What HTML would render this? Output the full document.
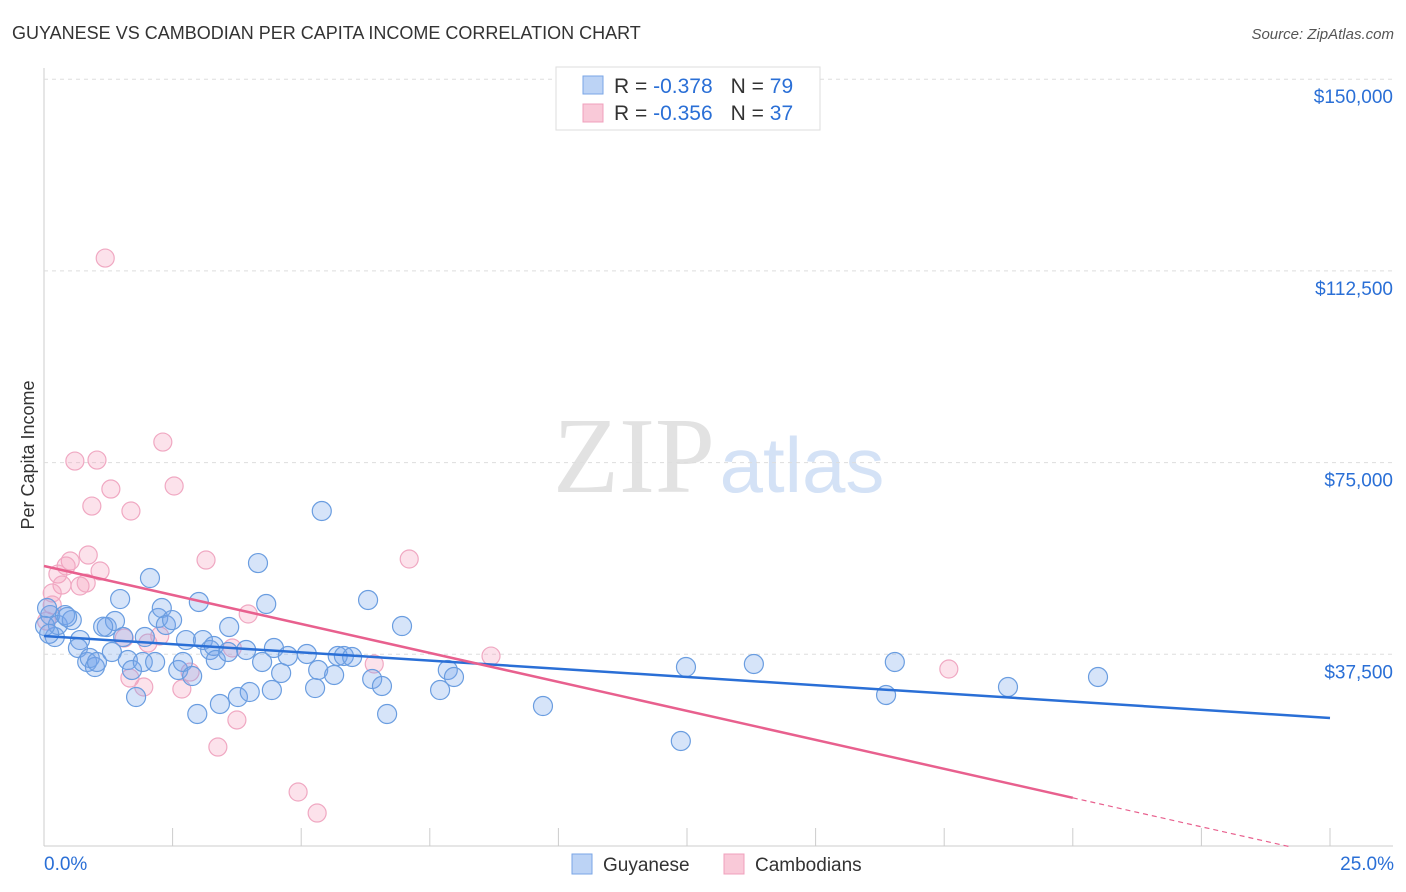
<!DOCTYPE html>
<html><head><meta charset="utf-8"><style>
body{margin:0;background:#fff;font-family:"Liberation Sans",sans-serif}
svg{display:block}
</style></head><body>
<svg id="chart" width="1406" height="892">
<text x="12" y="39" font-size="18" fill="#333">GUYANESE VS CAMBODIAN PER CAPITA INCOME CORRELATION CHART</text>
<text x="1394" y="39" font-size="15" fill="#555" font-style="italic" text-anchor="end">Source: ZipAtlas.com</text>
<text x="634" y="492" font-size="108" fill="#e2e2e2" font-family="Liberation Serif,serif" text-anchor="middle">ZIP</text>
<text x="802" y="492" font-size="78" fill="#d4e2f6" text-anchor="middle">atlas</text>
<text transform="translate(34,455) rotate(-90)" font-size="18" fill="#333" text-anchor="middle">Per Capita Income</text>
<g id="grid"></g><g id="pts"></g><g id="lines"></g>
<g>
<rect x="556" y="67" width="264" height="63" fill="#fff" stroke="#ddd"/>
<rect x="583" y="76" width="20" height="18" fill="#bcd3f5" stroke="#7aa6e6"/>
<rect x="583" y="104" width="20" height="18" fill="#f9c9d8" stroke="#f0a0bc"/>
<text x="614" y="93" font-size="21" fill="#333">R = <tspan fill="#2a6fd6">-0.378</tspan><tspan dx="18">N = </tspan><tspan fill="#2a6fd6">79</tspan></text>
<text x="614" y="120" font-size="21" fill="#333">R = <tspan fill="#2a6fd6">-0.356</tspan><tspan dx="18">N = </tspan><tspan fill="#2a6fd6">37</tspan></text>
</g>
<rect x="572" y="854" width="20" height="20" fill="#bcd3f5" stroke="#7aa6e6"/>
<text x="603" y="871" font-size="19" fill="#333">Guyanese</text>
<rect x="724" y="854" width="20" height="20" fill="#f9c9d8" stroke="#f0a0bc"/>
<text x="755" y="871" font-size="19" fill="#333">Cambodians</text>
<text x="44" y="870" font-size="19" fill="#2a6fd6">0.0%</text>
<text x="1394" y="870" font-size="19" fill="#2a6fd6" text-anchor="end">25.0%</text>
</svg>
<script>
const yTicks=[37500,75000,112500,150000];
const yTickLabels=["$37,500","$75,000","$112,500","$150,000"];
const guyX=[0.12,0.21,0.27,0.41,0.54,0.70,0.66,0.84,0.89,0.99,1.03,1.22,1.38,1.48,1.32,1.54,1.63,1.71,1.79,1.92,1.96,2.06,2.16,2.22,2.29,2.37,2.49,2.61,2.70,2.76,2.88,2.98,3.01,3.09,3.23,3.30,3.34,3.42,3.58,3.60,3.77,3.93,4.00,4.16,4.24,4.32,4.43,4.47,4.61,4.74,5.11,5.27,5.33,5.40,5.64,5.71,5.83,5.99,6.30,6.38,6.57,6.67,6.96,7.70,7.85,7.97,9.70,12.38,12.48,13.80,16.37,16.54,18.74,20.49,0.06,0.02,0.45,1.15,0.10];
const guyY=[45180,40880,43230,45180,44200,40290,38730,35990,36770,35010,35990,42840,44010,48310,37950,40880,36380,34430,29140,35990,40880,52420,35990,44600,46550,43230,44200,34430,35990,40290,33250,25820,47730,40290,38340,39120,36380,27780,37950,42840,29140,38340,30120,55350,35990,47340,30510,38730,33840,37170,37560,30900,34430,65530,33450,37170,37170,36970,48120,32670,31300,25820,43030,30510,34430,33060,27380,20540,35010,35600,29540,35990,31100,33060,46550,43030,44800,42900,41500];
const camX=[1.19,2.31,0.60,1.03,2.53,1.30,0.93,1.69,0.86,0.51,3.15,7.10,0.43,0.27,1.09,0.35,0.70,0.82,0.16,0.16,3.97,1.56,2.25,2.02,3.66,6.42,8.69,17.59,2.84,1.67,1.94,2.68,3.75,3.38,4.94,5.31,0.05];
const camY=[115010,79020,75300,75500,70420,69830,66500,65530,56920,55750,55940,56140,54770,53200,53790,51050,50860,51440,49490,47140,45380,40680,41080,39700,38730,35600,37160,34620,34030,32860,31100,30710,24650,19360,10560,6450,44000];
const guyFit=[41080,25040];
const camFit=[54770,-1910];
const X=v=>44+v/25*1286, Y=v=>846-v/37500*191.7;
const NS="http://www.w3.org/2000/svg";
function mk(t,a,p){const e=document.createElementNS(NS,t);for(const k in a)e.setAttribute(k,a[k]);p.appendChild(e);return e;}
const g=document.getElementById('grid');
mk('line',{x1:44,y1:68,x2:44,y2:846,stroke:'#ccc'},g);
mk('line',{x1:44,y1:846,x2:1393,y2:846,stroke:'#ccc'},g);
for(let i=0;i<=10;i++){const t=mk('line',{x1:X(i*2.5),y1:828,x2:X(i*2.5),y2:846,stroke:'#ccc'},g);

}
yTicks.forEach((v,i)=>{const l=mk('line',{x1:44,y1:Y(v),x2:1393,y2:Y(v),stroke:'#ddd','stroke-dasharray':'4,4'},g);


const t=mk('text',{x:1393,y:Y(v)+24,'font-size':19,fill:'#2a6fd6','text-anchor':'end'},g);t.textContent=yTickLabels[i];

});
const p=document.getElementById('pts');
camX.forEach((x,i)=>{const c=mk('circle',{cx:X(x),cy:Y(camY[i]),r:9,fill:'rgba(244,160,190,0.3)',stroke:'#f0a8c2','stroke-width':1.2},p);

});
guyX.forEach((x,i)=>{const c=mk('circle',{cx:X(x),cy:Y(guyY[i]),r:9.5,fill:'rgba(120,165,235,0.3)',stroke:'#6a9de0','stroke-width':1.2},p);

});
const L=document.getElementById('lines');
const bl=mk('line',{x1:X(0),y1:Y(guyFit[0]),x2:X(25),y2:Y(guyFit[1]),stroke:'#2a6fd6','stroke-width':2.5},L);


const cy=x=>camFit[0]+(camFit[1]-camFit[0])*x/25;
const pl=mk('line',{x1:X(0),y1:Y(cy(0)),x2:X(20),y2:Y(cy(20)),stroke:'#e8608e','stroke-width':2.5},L);


const pd=mk('line',{x1:X(20),y1:Y(cy(20)),x2:X(24.2),y2:Y(cy(24.2)),stroke:'#e8608e','stroke-width':1.2,'stroke-dasharray':'5,4'},L);


</script>
</body></html>
